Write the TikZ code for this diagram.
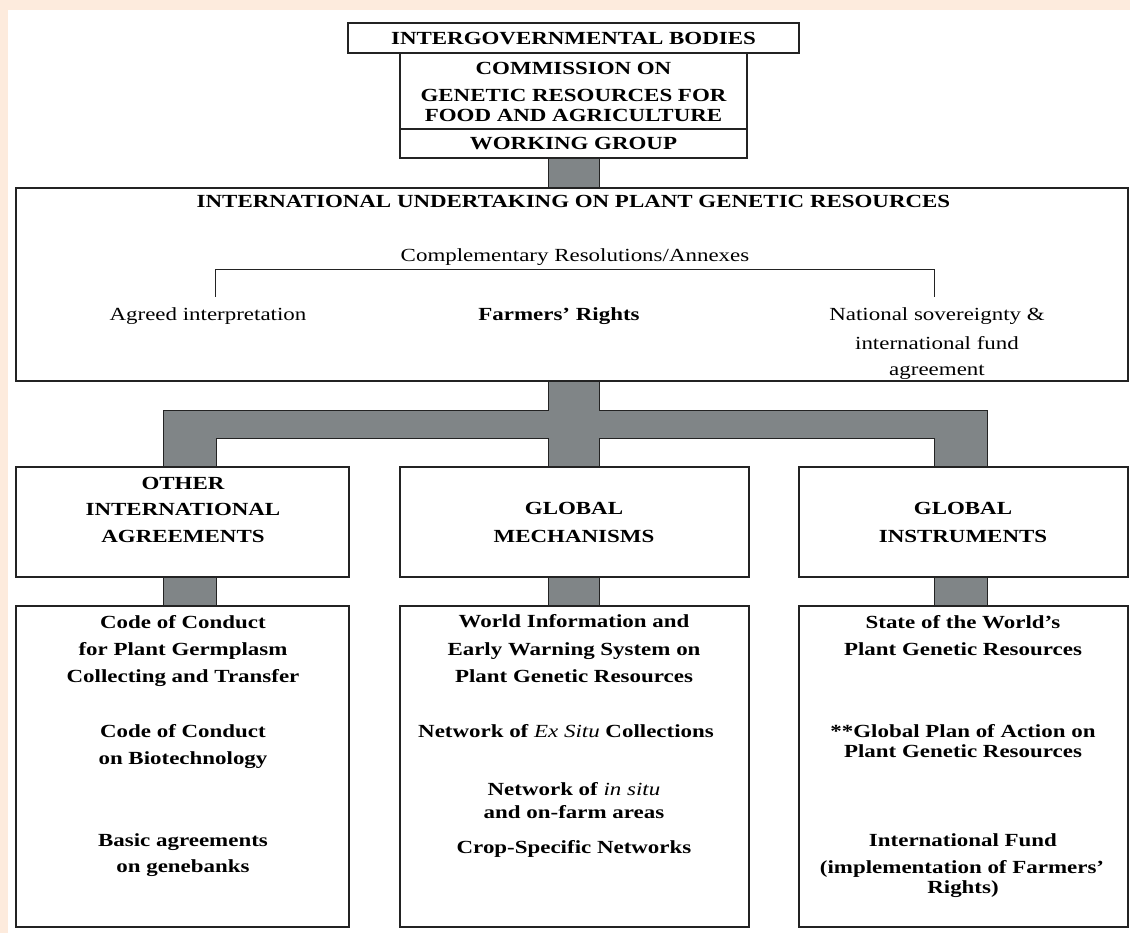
\documentclass[tikz,border=0pt]{standalone}
\usepackage{fontspec}
\setmainfont{Liberation Serif}[FakeStretch=1.24]
\newcommand\myfs{\fontsize{18.5pt}{27pt}\selectfont}
\definecolor{peach}{RGB}{253,235,221}
\definecolor{cgray}{RGB}{128,133,135}
\definecolor{edge}{RGB}{35,35,35}
\begin{document}
\begin{tikzpicture}[x=1pt,y=-1pt,
  box/.style={draw=edge,line width=1.6pt,fill=white,inner sep=0pt,outer sep=0pt,anchor=north west},
  tx/.style={anchor=base,inner sep=0pt,font=\myfs},
  bt/.style={anchor=base,inner sep=0pt,font=\myfs\bfseries},
  conn/.style={fill=cgray,draw=edge,line width=1pt},
  brk/.style={draw=edge,line width=1pt}]
\useasboundingbox (0,0) rectangle (1130,933);
\fill[peach] (0,0) rectangle (1130,933);
\fill[white] (8,10) rectangle (1130,933);

% gray connectors
\draw[conn] (548,158) rectangle (599,188);
\draw[conn] (163,467) -- (163,410) -- (548,410) -- (548,381) -- (599,381) -- (599,410)
  -- (987,410) -- (987,467) -- (934,467) -- (934,438) -- (599,438) -- (599,467)
  -- (548,467) -- (548,438) -- (216,438) -- (216,467) -- cycle;
\draw[conn] (163,577) rectangle (216,606);
\draw[conn] (548,577) rectangle (599,606);
\draw[conn] (934,577) rectangle (987,606);

% boxes
\node[box,minimum width=451pt,minimum height=30pt] (ib) at (348,23) {};
\node[box,minimum width=347pt,minimum height=76pt] (cgr) at (400,53) {};
\node[box,minimum width=347pt,minimum height=29pt] (wg) at (400,129) {};
\node[box,minimum width=1112pt,minimum height=193pt] (iu) at (16,188) {};
\node[box,minimum width=333pt,minimum height=110pt] (oia) at (16,467) {};
\node[box,minimum width=349pt,minimum height=110pt] (gm) at (400,467) {};
\node[box,minimum width=329pt,minimum height=110pt] (gi) at (799,467) {};
\node[box,minimum width=333pt,minimum height=321pt] (la) at (16,606) {};
\node[box,minimum width=349pt,minimum height=321pt] (lb) at (400,606) {};
\node[box,minimum width=329pt,minimum height=321pt] (lc) at (799,606) {};

% top texts
\node[bt] (t1) at (573.5,45) {INTERGOVERNMENTAL BODIES};
\node[bt] (t2) at (573.5,75) {COMMISSION ON};
\node[bt] (t3) at (573.5,102) {GENETIC RESOURCES FOR};
\node[bt] (t4) at (573.5,122) {FOOD AND AGRICULTURE};
\node[bt] (t5) at (573.5,150) {WORKING GROUP};

% big box
\node[bt] (u1) at (573.5,208) {INTERNATIONAL UNDERTAKING ON PLANT GENETIC RESOURCES};
\node[tx] (u2) at (575,262) {Complementary Resolutions/Annexes};
\coordinate (bl) at (215,297);
\coordinate (blt) at (215,270);
\coordinate (brt) at (934,270);
\coordinate (br) at (934,297);
\draw[brk] (bl) -- (blt) -- (brt) -- (br);
\node[tx] (u3) at (208,321) {Agreed interpretation};
\node[bt] (u4) at (559,321) {Farmers' Rights};
\node[tx] (u5) at (937,321) {National sovereignty \&};
\node[tx] (u6) at (937,349) {international fund};
\node[tx] (u7) at (937,375) {agreement};

% level 2
\node[bt] (a1) at (183,489) {OTHER};
\node[bt] (a2) at (183,515) {INTERNATIONAL};
\node[bt] (a3) at (183,542) {AGREEMENTS};
\node[bt] (b1) at (574,514) {GLOBAL};
\node[bt] (b2) at (574,542) {MECHANISMS};
\node[bt] (c1) at (963,514) {GLOBAL};
\node[bt] (c2) at (963,542) {INSTRUMENTS};

% level 3 left
\node[bt] (la1) at (183,628) {Code of Conduct};
\node[bt] (la2) at (183,655) {for Plant Germplasm};
\node[bt] (la3) at (183,682) {Collecting and Transfer};
\node[bt] (la4) at (183,737) {Code of Conduct};
\node[bt] (la5) at (183,764) {on Biotechnology};
\node[bt] (la6) at (183,846) {Basic agreements};
\node[bt] (la7) at (183,872) {on genebanks};

% level 3 middle
\node[bt] (lb1) at (574,627) {World Information and};
\node[bt] (lb2) at (574,655) {Early Warning System on};
\node[bt] (lb3) at (574,682) {Plant Genetic Resources};
\node[bt] (lb4) at (566,737) {Network of {\mdseries\itshape Ex Situ} Collections};
\node[bt] (lb5) at (574,795) {Network of {\mdseries\itshape in situ}};
\node[bt] (lb6) at (574,818) {and on-farm areas};
\node[bt] (lb7) at (574,853) {Crop-Specific Networks};

% level 3 right
\node[bt] (lc1) at (963,628) {State of the World's};
\node[bt] (lc2) at (963,655) {Plant Genetic Resources};
\node[bt] (lc3) at (963,737) {**Global Plan of Action on};
\node[bt] (lc4) at (963,757) {Plant Genetic Resources};
\node[bt] (lc5) at (963,846) {International Fund};
\node[bt] (lc6) at (962,873) {(implementation of Farmers'};
\node[bt] (lc7) at (963,893) {Rights)};
\end{tikzpicture}
\end{document}
